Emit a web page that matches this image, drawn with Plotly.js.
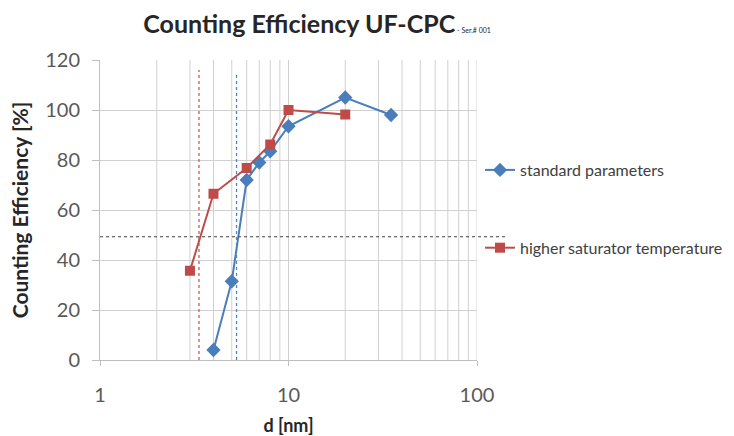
<!DOCTYPE html>
<html>
<head>
<meta charset="utf-8">
<script src="https://cdn.plot.ly/plotly-3.0.1.min.js"></script>
<style>html,body{margin:0;padding:0;background:#fff;}#chart{width:734px;height:436px;}</style>
</head>
<body>
<div id="chart"></div>
<script>
const stdD = [4, 5, 6, 7, 8, 10, 20, 35];
const stdEff = [4, 31.5, 72, 79, 83.5, 93.5, 105, 98];
const hotD = [3, 4, 6, 8, 10, 20];
const hotEff = [35.7, 66.5, 76.8, 86.2, 100, 98.2];
const cutStd = 5.3;
const cutHot = 3.35;
const half = 49.3;
const yTicks = [0, 20, 40, 60, 80, 100, 120];
const xTicks = [1, 10, 100];

const font = "Lato, 'Open Sans', sans-serif";
const traces = [
  {x: stdD, y: stdEff, name: 'standard parameters', mode: 'lines+markers', legendgroup: 'a',
   line: {color: '#4A7EBB', width: 2}, marker: {symbol: 'diamond', size: 11, color: '#4A7EBB'}},
  {x: hotD, y: hotEff, name: 'higher saturator temperature', mode: 'lines+markers', legendgroup: 'b',
   line: {color: '#BE4B48', width: 2}, marker: {symbol: 'square', size: 10, color: '#BE4B48'}}
];
const layout = {
  width: 734, height: 436,
  margin: {l: 100, r: 257, t: 60, b: 76, autoexpand: false},
  paper_bgcolor: '#fff', plot_bgcolor: '#fff',
  font: {family: font, color: '#595959'},
  title: {text: '<b>Counting Efficiency UF-CPC</b><span style="font-size:7px"> - Ser.# 001</span>',
          font: {family: font, size: 25, color: '#262626'}, x: 0.432, xanchor: 'center', y: 0.945, yanchor: 'middle'},
  xaxis: {type: 'log', range: [0, 2], tickvals: xTicks, ticktext: xTicks.map(String),
          showgrid: false, zeroline: false, showline: true, linecolor: '#BFBFBF',
          ticks: 'outside', ticklen: 5, tickcolor: '#BFBFBF', ticklabelstandoff: 12,
          tickfont: {size: 20, color: '#595959'},
          title: {text: '<b>d [nm]</b>', font: {size: 18, color: '#262626'}, standoff: 14}},
  yaxis: {range: [0, 120], tickvals: yTicks, showgrid: true, gridcolor: '#D0D0D0', zeroline: false,
          showline: true, linecolor: '#BFBFBF', ticks: 'outside', ticklen: 7, tickcolor: '#BFBFBF',
          ticklabelstandoff: 8, tickfont: {size: 20, color: '#595959'},
          title: {text: '<b>Counting Efficiency [%]</b>', font: {size: 21, color: '#262626'}, standoff: 10}},
  legend: {x: 1.008, y: 0.69, xanchor: 'left', yanchor: 'top', tracegroupgap: 54,
           font: {size: 16, color: '#404040'}, bgcolor: 'rgba(0,0,0,0)', itemwidth: 30},
  shapes: [],
  showlegend: true
};
// vertical minor grid lines
const grid = [];
for (let dec = 1; dec <= 10; dec *= 10) {
  for (let k = 2; k <= 10; k++) grid.push(k * dec);
}
grid.forEach(v => layout.shapes.push({type: 'line', xref: 'x', yref: 'y', x0: v, x1: v, y0: 0, y1: 120,
  line: {color: '#D0D0D0', width: 1}, layer: 'below'}));
layout.shapes.push({type: 'line', xref: 'x', yref: 'y', x0: cutHot, x1: cutHot, y0: 0, y1: 116,
  line: {color: '#D9534F', width: 1.3, dash: 'dot'}});
layout.shapes.push({type: 'line', xref: 'x', yref: 'y', x0: cutStd, x1: cutStd, y0: 0, y1: 115,
  line: {color: '#4A8ACB', width: 1.3, dash: 'dot'}});
layout.shapes.push({type: 'line', xref: 'paper', yref: 'y', x0: 0, x1: 1.074, y0: half, y1: half,
  line: {color: '#404040', width: 1, dash: 'dot'}});
Plotly.newPlot('chart', traces, layout, {displayModeBar: false, staticPlot: true});
</script>
</body>
</html>
